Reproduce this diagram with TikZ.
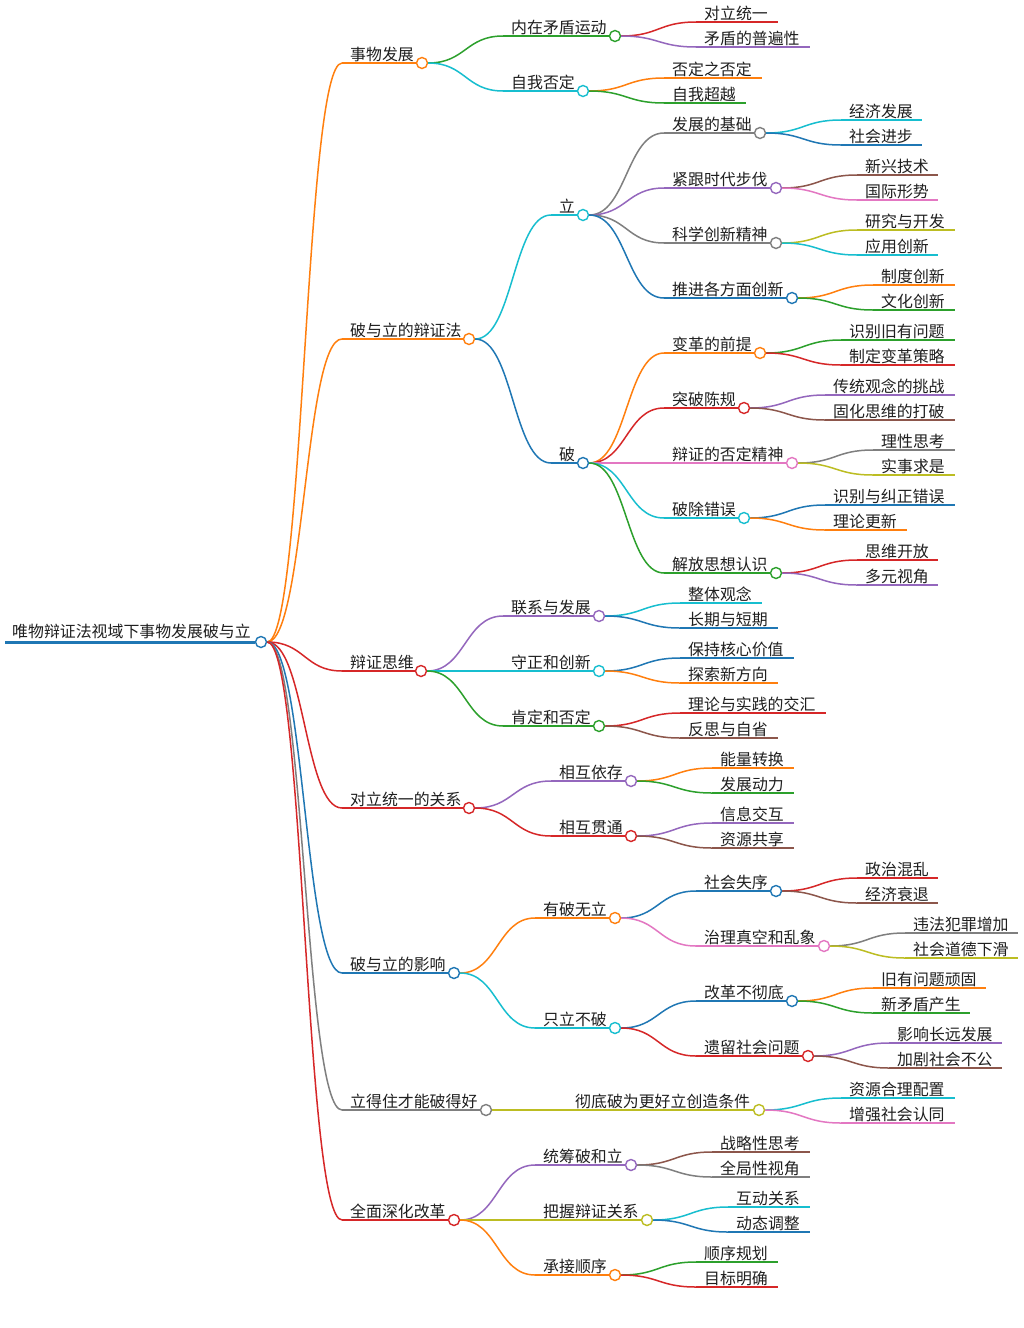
\documentclass[tikz,border=0pt]{standalone}
\usepackage{fontspec}
\setmainfont{Noto Sans CJK SC}
\usetikzlibrary{calc}
\definecolor{mblue}{HTML}{1F77B4}
\definecolor{morange}{HTML}{FF7F0E}
\definecolor{mgreen}{HTML}{2CA02C}
\definecolor{mred}{HTML}{D62728}
\definecolor{mpurple}{HTML}{9467BD}
\definecolor{mbrown}{HTML}{8C564B}
\definecolor{mpink}{HTML}{E377C2}
\definecolor{mgray}{HTML}{7F7F7F}
\definecolor{molive}{HTML}{BCBD22}
\definecolor{mcyan}{HTML}{17BECF}
\tikzset{
  lbl/.style={anchor=base west, inner sep=0pt, font=\fontsize{15.9}{18}\selectfont, text=black!88},
  dot/.style={circle, draw, fill=white, line width=1.4pt, minimum size=11pt, inner sep=0pt},
  br/.style={line width=1.5pt},
}
% name, color, xtext, y, xcircle, text
\newcommand\mnode[6]{%
  \coordinate (#1-s) at (#3-8,#4);
  \node[lbl] (#1-t) at (#3,#4-3) {#6};
  \node[dot,draw=#2] (#1) at (#5,#4) {};
  \draw[br,#2] (#1-s) -- (#1.west);
}
% name, color, xtext, y, xend, text
\newcommand\mleaf[6]{%
  \coordinate (#1-s) at (#3-8,#4);
  \coordinate (#1-e) at (#5,#4);
  \node[lbl] (#1-t) at (#3,#4-3) {#6};
  \draw[br,#2] (#1-s) -- (#1-e);
}
% color, parent, child
\newcommand\mlink[3]{%
  \draw[br,#1] let \p1=(#2.east), \p2=(#3-s) in (\p1) .. controls ({(\x1+\x2)/2},\y1) and ({(\x1+\x2)/2},\y2) .. (\p2);
}
\begin{document}
\begin{tikzpicture}[x=1pt,y=-1pt]
\fill[white] (0,0) rectangle (1023,1328);
\useasboundingbox (0,0) rectangle (1023,1328);

% root
\coordinate (root-s) at (5,642);
\node[lbl] (root-t) at (12,637) {唯物辩证法视域下事物发展破与立};
\node[dot,draw=mblue] (root) at (261,642) {};
\draw[mblue,line width=3pt] (root-s) -- (root.west);

% level 1
\mnode{A}{morange}{350}{63}{422}{事物发展}
\mnode{B}{morange}{350}{339}{469}{破与立的辩证法}
\mnode{C}{mred}{350}{671}{421}{辩证思维}
\mnode{D}{mred}{350}{808}{469}{对立统一的关系}
\mnode{E}{mblue}{350}{973}{454}{破与立的影响}
\mnode{F}{mgray}{350}{1110}{486}{立得住才能破得好}
\mnode{G}{mred}{350}{1220}{454}{全面深化改革}
\mlink{morange}{root}{A}
\mlink{morange}{root}{B}
\mlink{mred}{root}{C}
\mlink{mred}{root}{D}
\mlink{mblue}{root}{E}
\mlink{mgray}{root}{F}
\mlink{mred}{root}{G}

% A
\mnode{A1}{mgreen}{511}{36}{615}{内在矛盾运动}
\mnode{A2}{mcyan}{511}{91}{583}{自我否定}
\mlink{mgreen}{A}{A1}
\mlink{mcyan}{A}{A2}
\mleaf{A1a}{mred}{704}{22}{778}{对立统一}
\mleaf{A1b}{mpurple}{704}{47}{810}{矛盾的普遍性}
\mleaf{A2a}{morange}{672}{78}{762}{否定之否定}
\mleaf{A2b}{mgreen}{672}{103}{746}{自我超越}
\mlink{mred}{A1}{A1a}
\mlink{mpurple}{A1}{A1b}
\mlink{morange}{A2}{A2a}
\mlink{mgreen}{A2}{A2b}

% B
\mnode{B1}{mcyan}{559}{215}{583}{立}
\mnode{B2}{mblue}{559}{463}{583}{破}
\mlink{mcyan}{B}{B1}
\mlink{mblue}{B}{B2}
\mnode{B11}{mgray}{672}{133}{760}{发展的基础}
\mnode{B12}{mpurple}{672}{188}{776}{紧跟时代步伐}
\mnode{B13}{mgray}{672}{243}{776}{科学创新精神}
\mnode{B14}{mblue}{672}{298}{792}{推进各方面创新}
\mlink{mgray}{B1}{B11}
\mlink{mpurple}{B1}{B12}
\mlink{mgray}{B1}{B13}
\mlink{mblue}{B1}{B14}
\mleaf{B11a}{mcyan}{849}{120}{922}{经济发展}
\mleaf{B11b}{mblue}{849}{145}{922}{社会进步}
\mleaf{B12a}{mbrown}{865}{175}{938}{新兴技术}
\mleaf{B12b}{mpink}{865}{200}{938}{国际形势}
\mleaf{B13a}{molive}{865}{230}{955}{研究与开发}
\mleaf{B13b}{mcyan}{865}{255}{938}{应用创新}
\mleaf{B14a}{morange}{881}{285}{955}{制度创新}
\mleaf{B14b}{mgreen}{881}{310}{955}{文化创新}
\mlink{mcyan}{B11}{B11a}
\mlink{mblue}{B11}{B11b}
\mlink{mbrown}{B12}{B12a}
\mlink{mpink}{B12}{B12b}
\mlink{molive}{B13}{B13a}
\mlink{mcyan}{B13}{B13b}
\mlink{morange}{B14}{B14a}
\mlink{mgreen}{B14}{B14b}

\mnode{B21}{morange}{672}{353}{760}{变革的前提}
\mnode{B22}{mred}{672}{408}{744}{突破陈规}
\mnode{B23}{mpink}{672}{463}{792}{辩证的否定精神}
\mnode{B24}{mcyan}{672}{518}{744}{破除错误}
\mnode{B25}{mgreen}{672}{573}{776}{解放思想认识}
\mlink{morange}{B2}{B21}
\mlink{mred}{B2}{B22}
\mlink{mpink}{B2}{B23}
\mlink{mcyan}{B2}{B24}
\mlink{mgreen}{B2}{B25}
\mleaf{B21a}{mgreen}{849}{340}{955}{识别旧有问题}
\mleaf{B21b}{mred}{849}{365}{955}{制定变革策略}
\mleaf{B22a}{mpurple}{833}{395}{955}{传统观念的挑战}
\mleaf{B22b}{mbrown}{833}{420}{955}{固化思维的打破}
\mleaf{B23a}{mgray}{881}{450}{955}{理性思考}
\mleaf{B23b}{molive}{881}{475}{955}{实事求是}
\mleaf{B24a}{mblue}{833}{505}{955}{识别与纠正错误}
\mleaf{B24b}{morange}{833}{530}{907}{理论更新}
\mleaf{B25a}{mred}{865}{560}{938}{思维开放}
\mleaf{B25b}{mpurple}{865}{585}{938}{多元视角}
\mlink{mgreen}{B21}{B21a}
\mlink{mred}{B21}{B21b}
\mlink{mpurple}{B22}{B22a}
\mlink{mbrown}{B22}{B22b}
\mlink{mgray}{B23}{B23a}
\mlink{molive}{B23}{B23b}
\mlink{mblue}{B24}{B24a}
\mlink{morange}{B24}{B24b}
\mlink{mred}{B25}{B25a}
\mlink{mpurple}{B25}{B25b}

% C
\mnode{C1}{mpurple}{511}{616}{599}{联系与发展}
\mnode{C2}{mcyan}{511}{671}{599}{守正和创新}
\mnode{C3}{mgreen}{511}{726}{599}{肯定和否定}
\mlink{mpurple}{C}{C1}
\mlink{mcyan}{C}{C2}
\mlink{mgreen}{C}{C3}
\mleaf{C1a}{mcyan}{688}{603}{762}{整体观念}
\mleaf{C1b}{mblue}{688}{628}{778}{长期与短期}
\mleaf{C2a}{mblue}{688}{658}{794}{保持核心价值}
\mleaf{C2b}{morange}{688}{683}{778}{探索新方向}
\mleaf{C3a}{mred}{688}{713}{826}{理论与实践的交汇}
\mleaf{C3b}{mbrown}{688}{738}{778}{反思与自省}
\mlink{mcyan}{C1}{C1a}
\mlink{mblue}{C1}{C1b}
\mlink{mblue}{C2}{C2a}
\mlink{morange}{C2}{C2b}
\mlink{mred}{C3}{C3a}
\mlink{mbrown}{C3}{C3b}

% D
\mnode{D1}{mpurple}{559}{781}{631}{相互依存}
\mnode{D2}{mred}{559}{836}{631}{相互贯通}
\mlink{mpurple}{D}{D1}
\mlink{mred}{D}{D2}
\mleaf{D1a}{morange}{720}{768}{794}{能量转换}
\mleaf{D1b}{mgreen}{720}{793}{794}{发展动力}
\mleaf{D2a}{mpurple}{720}{823}{794}{信息交互}
\mleaf{D2b}{mbrown}{720}{848}{794}{资源共享}
\mlink{morange}{D1}{D1a}
\mlink{mgreen}{D1}{D1b}
\mlink{mpurple}{D2}{D2a}
\mlink{mbrown}{D2}{D2b}

% E
\mnode{E1}{morange}{543}{918}{615}{有破无立}
\mnode{E2}{mcyan}{543}{1028}{615}{只立不破}
\mlink{morange}{E}{E1}
\mlink{mcyan}{E}{E2}
\mnode{E11}{mblue}{704}{891}{776}{社会失序}
\mnode{E12}{mpink}{704}{946}{824}{治理真空和乱象}
\mnode{E21}{mblue}{704}{1001}{792}{改革不彻底}
\mnode{E22}{mred}{704}{1056}{808}{遗留社会问题}
\mlink{mblue}{E1}{E11}
\mlink{mpink}{E1}{E12}
\mlink{mblue}{E2}{E21}
\mlink{mred}{E2}{E22}
\mleaf{E11a}{mred}{865}{878}{938}{政治混乱}
\mleaf{E11b}{mbrown}{865}{903}{938}{经济衰退}
\mleaf{E12a}{mgray}{913}{933}{1018}{违法犯罪增加}
\mleaf{E12b}{molive}{913}{958}{1018}{社会道德下滑}
\mleaf{E21a}{morange}{881}{988}{986}{旧有问题顽固}
\mleaf{E21b}{mgreen}{881}{1013}{970}{新矛盾产生}
\mleaf{E22a}{mpurple}{897}{1043}{1002}{影响长远发展}
\mleaf{E22b}{mbrown}{897}{1068}{1002}{加剧社会不公}
\mlink{mred}{E11}{E11a}
\mlink{mbrown}{E11}{E11b}
\mlink{mgray}{E12}{E12a}
\mlink{molive}{E12}{E12b}
\mlink{morange}{E21}{E21a}
\mlink{mgreen}{E21}{E21b}
\mlink{mpurple}{E22}{E22a}
\mlink{mbrown}{E22}{E22b}

% F
\mnode{F1}{molive}{575}{1110}{759}{彻底破为更好立创造条件}
\mlink{molive}{F}{F1}
\mleaf{F1a}{mcyan}{849}{1098}{955}{资源合理配置}
\mleaf{F1b}{mpink}{849}{1123}{955}{增强社会认同}
\mlink{mcyan}{F1}{F1a}
\mlink{mpink}{F1}{F1b}

% G
\mnode{G1}{mpurple}{543}{1165}{631}{统筹破和立}
\mnode{G2}{molive}{543}{1220}{647}{把握辩证关系}
\mnode{G3}{morange}{543}{1275}{615}{承接顺序}
\mlink{mpurple}{G}{G1}
\mlink{molive}{G}{G2}
\mlink{morange}{G}{G3}
\mleaf{G1a}{mbrown}{720}{1152}{810}{战略性思考}
\mleaf{G1b}{mgray}{720}{1177}{810}{全局性视角}
\mleaf{G2a}{mcyan}{736}{1207}{810}{互动关系}
\mleaf{G2b}{mblue}{736}{1232}{810}{动态调整}
\mleaf{G3a}{mgreen}{704}{1262}{778}{顺序规划}
\mleaf{G3b}{mred}{704}{1287}{778}{目标明确}
\mlink{mbrown}{G1}{G1a}
\mlink{mgray}{G1}{G1b}
\mlink{mcyan}{G2}{G2a}
\mlink{mblue}{G2}{G2b}
\mlink{mgreen}{G3}{G3a}
\mlink{mred}{G3}{G3b}
\end{tikzpicture}
\end{document}
